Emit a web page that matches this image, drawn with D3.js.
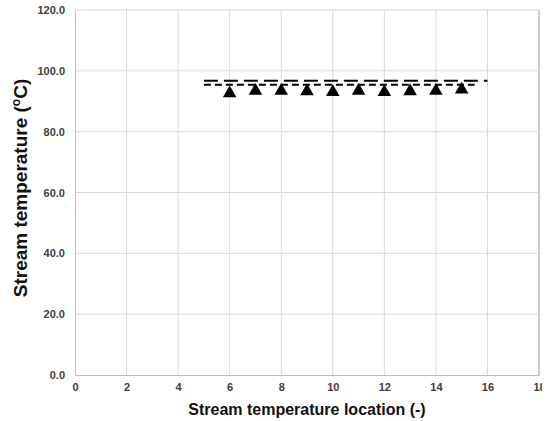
<!DOCTYPE html>
<html>
<head>
<meta charset="utf-8">
<script src="https://cdn.jsdelivr.net/npm/d3@7"></script>
<style>
  body { margin: 0; background: #fff; }
  text { font-family: "Liberation Sans", Arial, sans-serif; }
</style>
</head>
<body>
<div id="chart"></div>
<script>
// measured points (triangles)
var locations = [6, 7, 8, 9, 10, 11, 12, 13, 14, 15];
var measured = [92.6, 93.4, 93.4, 93.3, 93.0, 93.4, 93.0, 93.3, 93.4, 93.8];

// two dashed reference lines
var upperLineX = [5, 16];
var upperLineY = [96.7, 96.7];
var lowerLineX = [5, 15.5];
var lowerLineY = [95.4, 95.4];

var xTicks = [0, 2, 4, 6, 8, 10, 12, 14, 16, 18];
var yTicks = [0, 20, 40, 60, 80, 100, 120];

var width = 554, height = 421;
var margin = {left: 75, top: 10, right: 15, bottom: 46};

var svg = d3.select("#chart").append("svg")
    .attr("width", width)
    .attr("height", height);

var x = d3.scaleLinear().domain([0, 18]).range([margin.left, 539]);
var y = d3.scaleLinear().domain([0, 120]).range([height - margin.bottom, margin.top]);

// gridlines
svg.append("g")
    .selectAll("line")
    .data(xTicks.slice(1))
    .enter().append("line")
    .attr("x1", function(d) { return x(d); })
    .attr("x2", function(d) { return x(d); })
    .attr("y1", y(0))
    .attr("y2", y(120))
    .attr("stroke", function(d) { return d === 18 ? "#9a9a9a" : "#d9d9d9"; })
    .attr("stroke-width", 1);

svg.append("g")
    .selectAll("line")
    .data(yTicks.slice(1))
    .enter().append("line")
    .attr("x1", x(0))
    .attr("x2", x(18))
    .attr("y1", function(d) { return y(d); })
    .attr("y2", function(d) { return y(d); })
    .attr("stroke", "#d9d9d9")
    .attr("stroke-width", 1);

// axes
var xAxis = svg.append("g")
    .attr("transform", "translate(0," + y(0) + ")")
    .call(d3.axisBottom(x).tickValues(xTicks).tickSize(0).tickPadding(8));
var yAxis = svg.append("g")
    .attr("transform", "translate(" + x(0) + ",0)")
    .call(d3.axisLeft(y).tickValues(yTicks).tickFormat(d3.format(".1f")).tickSize(0).tickPadding(10));

[xAxis, yAxis].forEach(function(a) {
    a.select(".domain").attr("stroke", "#bfbfbf");
    a.selectAll("text")
        .attr("font-size", 11)
        .attr("font-weight", "bold")
        .attr("fill", "#404040")
        .style("font-family", "'Liberation Sans', Arial, sans-serif");
});

// dashed lines
var line = d3.line()
    .x(function(d) { return x(d[0]); })
    .y(function(d) { return y(d[1]); });

svg.append("path")
    .datum(d3.zip(upperLineX, upperLineY))
    .attr("d", line)
    .attr("fill", "none")
    .attr("stroke", "#000")
    .attr("stroke-width", 2)
    .attr("stroke-dasharray", "14,6");

svg.append("path")
    .datum(d3.zip(lowerLineX, lowerLineY))
    .attr("d", line)
    .attr("fill", "none")
    .attr("stroke", "#000")
    .attr("stroke-width", 2)
    .attr("stroke-dasharray", "7,4");

// triangles
var tri = d3.symbol().type(d3.symbolTriangle).size(80);
svg.append("g")
    .selectAll("path")
    .data(d3.zip(locations, measured))
    .enter().append("path")
    .attr("d", tri)
    .attr("transform", function(d) { return "translate(" + x(d[0]) + "," + y(d[1]) + ")"; })
    .attr("fill", "#000");

// the source image is cut off just past the last gridline
svg.append("rect")
    .attr("x", 542)
    .attr("y", 0)
    .attr("width", width - 542)
    .attr("height", height)
    .attr("fill", "#fff");

// axis titles
svg.append("text")
    .attr("x", 307)
    .attr("y", 415)
    .attr("text-anchor", "middle")
    .attr("font-size", 16)
    .attr("font-weight", "bold")
    .attr("fill", "#111")
    .text("Stream temperature location (-)");

var yt = svg.append("text")
    .attr("transform", "translate(27,188) rotate(-90)")
    .attr("text-anchor", "middle")
    .attr("font-size", 19)
    .attr("font-weight", "bold")
    .attr("fill", "#111");
yt.append("tspan").text("Stream temperature (");
yt.append("tspan").attr("font-size", 12).attr("dy", -7).text("o");
yt.append("tspan").attr("dy", 7).text("C)");
</script>
</body>
</html>
